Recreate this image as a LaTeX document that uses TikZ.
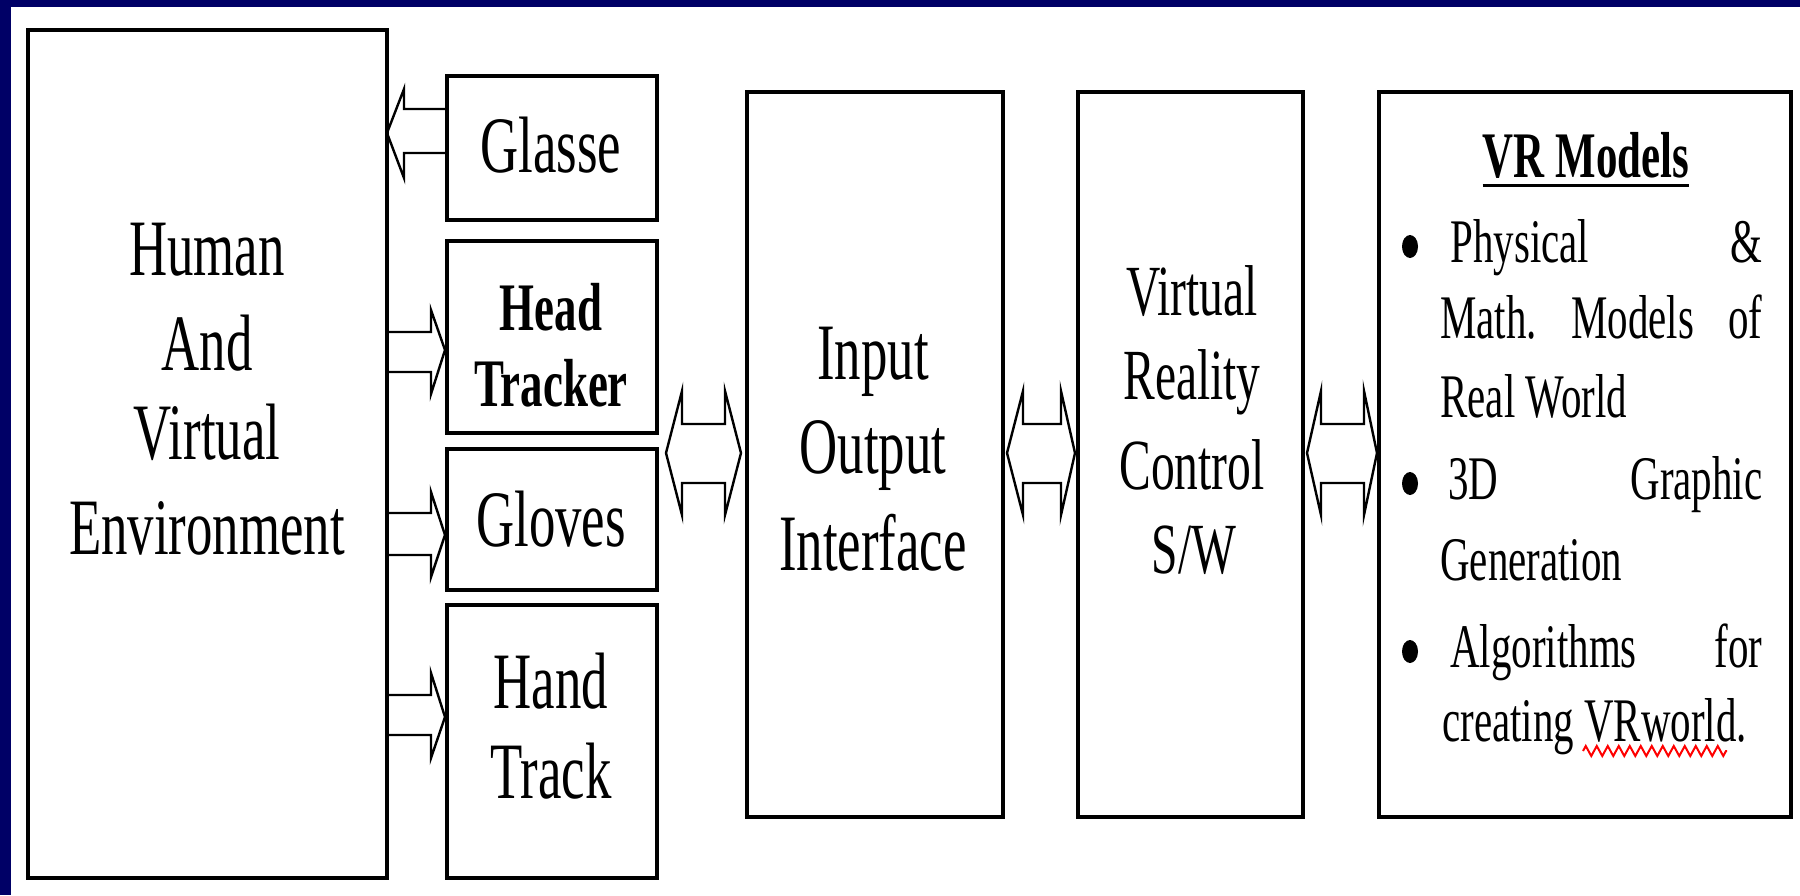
\documentclass[tikz,border=0pt]{standalone}
\usepackage{fontspec}
\newfontfamily\tnr[FakeStretch=0.66]{Liberation Serif}
\usetikzlibrary{calc,decorations.pathmorphing}
\definecolor{bordernavy}{RGB}{0,0,102}
\begin{document}
\begin{tikzpicture}[x=0.5pt,y=-0.5pt,
  box/.style={draw, line width=2pt, inner sep=0pt, minimum width=#1},
  blkarrow/.style={draw, line width=1.2pt, line join=miter},
  big/.style={font=\tnr\fontsize{40pt}{40pt}\selectfont, anchor=base, inner sep=0pt},
  mid/.style={font=\tnr\fontsize{36pt}{36pt}\selectfont, anchor=base, inner sep=0pt},
  hbold/.style={font=\tnr\bfseries\fontsize{34pt}{34pt}\selectfont, anchor=base, inner sep=0pt},
  ttl/.style={font=\tnr\bfseries\fontsize{32.5pt}{32.5pt}\selectfont, anchor=base, inner sep=0pt},
  lst/.style={font=\tnr\fontsize{31pt}{31pt}\selectfont, anchor=base west, inner sep=0pt},
  bul/.style={fill=black}]
\useasboundingbox (0,0) rectangle (1800,895);
\fill[white] (0,0) rectangle (1800,895);
\fill[bordernavy] (0,0) rectangle (1800,7);
\fill[bordernavy] (0,0) rectangle (11,895);

% boxes
\node[box=179.5pt, minimum height=424pt] (human) at (207.5,454) {};
\node[box=105pt, minimum height=72pt] (glasse) at (552,148) {};
\node[box=105pt, minimum height=96pt] (head) at (552,337) {};
\node[box=105pt, minimum height=70.5pt] (gloves) at (552,519.5) {};
\node[box=105pt, minimum height=136.5pt] (hand) at (552,741.5) {};
\node[box=128pt, minimum height=362.5pt] (io) at (875,454.5) {};
\node[box=112.5pt, minimum height=362.5pt] (vrc) at (1190.5,454.5) {};
\node[box=206pt, minimum height=362.5pt] (models) at (1585,454.5) {};

% texts
\node[big] (h1) at (207,275) {Human};
\node[big] (h2) at (207,370) {And};
\node[big] (h3) at (207,459) {Virtual};
\node[big] (h4) at (207,554) {Environment};
\node[big] (g1) at (551,172) {Glasse};
\node[hbold] (t1) at (551,330) {Head};
\node[hbold] (t2) at (551,406) {Tracker};
\node[big] (gl1) at (551,546) {Gloves};
\node[big] (ht1) at (551,708) {Hand};
\node[big] (ht2) at (551,798) {Track};
\node[big] (i1) at (873,379) {Input};
\node[big] (i2) at (873,473) {Output};
\node[big] (i3) at (873,570) {Interface};
\node[mid] (v1) at (1192,315) {Virtual};
\node[mid] (v2) at (1192,399) {Reality};
\node[mid] (v3) at (1192,489) {Control};
\node[mid] (v4) at (1194,573) {S/W};

\node[ttl] (mt) at (1586,177) {VR Models};
\draw[line width=1.5pt] ($(mt.base west)+(0,8)$) -- ($(mt.base east)+(0,8)$);

\fill[bul] (1410,246.5) ellipse[x radius=8, y radius=11.5];
\node[lst] (l1) at (1450,262) {\hbox to 156pt{Physical\hfill\&}};
\node[lst] (l2) at (1440,338) {\hbox to 161pt{Math.\hfill Models\hfill of}};
\node[lst] (l3) at (1440,417) {Real World};
\fill[bul] (1410,483.5) ellipse[x radius=8, y radius=11.5];
\node[lst] (l4) at (1448,499) {\hbox to 157pt{3D\hfill Graphic}};
\node[lst] (l5) at (1440,580) {Generation};
\fill[bul] (1410,651.5) ellipse[x radius=8, y radius=11.5];
\node[lst] (l6) at (1450,667) {\hbox to 156pt{Algorithms\hfill for}};
\node[lst] (l7) at (1442,741) {creating VRworld.};
\draw[red, line width=1pt, decorate, decoration={zigzag, segment length=5.5pt, amplitude=2.5pt}] (1583,751) -- (1727,751);

% single block arrows
\draw[blkarrow] (glasse.west |- 0,109) -- ($(human.east |- 0,109)+(15,0)$) -- ($(human.east |- 0,89)+(15,0)$)
  -- ($(human.east |- 0,133)+(-2,0)$) -- ($(human.east |- 0,178)+(15,0)$) -- ($(human.east |- 0,153)+(15,0)$) -- (glasse.west |- 0,153);
\draw[blkarrow] (human.east |- 0,332) -- ($(head.west |- 0,332)+(-14,0)$) -- ($(head.west |- 0,310)+(-14,0)$)
  -- (head.west |- 0,350) -- ($(head.west |- 0,394)+(-14,0)$) -- ($(head.west |- 0,372)+(-14,0)$) -- (human.east |- 0,372);
\draw[blkarrow] (human.east |- 0,513) -- ($(gloves.west |- 0,513)+(-14,0)$) -- ($(gloves.west |- 0,492)+(-14,0)$)
  -- (gloves.west |- 0,535) -- ($(gloves.west |- 0,577)+(-14,0)$) -- ($(gloves.west |- 0,555)+(-14,0)$) -- (human.east |- 0,555);
\draw[blkarrow] (human.east |- 0,695) -- ($(hand.west |- 0,695)+(-14,0)$) -- ($(hand.west |- 0,673)+(-14,0)$)
  -- (hand.west |- 0,717) -- ($(hand.west |- 0,758)+(-14,0)$) -- ($(hand.west |- 0,735)+(-14,0)$) -- (human.east |- 0,735);

% double block arrows
\newcommand\dblarr[6]{%
\draw[blkarrow] ($(#1 |- 0,453)+(#2,0)$) -- ($(#1 |- 0,391)+(#3,0)$) -- ($(#1 |- 0,424)+(#3,0)$)
  -- ($(#4 |- 0,424)+(#6,0)$) -- ($(#4 |- 0,391)+(#6,0)$) -- ($(#4 |- 0,453)+(#5,0)$)
  -- ($(#4 |- 0,515)+(#6,0)$) -- ($(#4 |- 0,483)+(#6,0)$) -- ($(#1 |- 0,483)+(#3,0)$)
  -- ($(#1 |- 0,515)+(#3,0)$) -- cycle;}
\dblarr{glasse.east}{7}{23}{io.west}{-4}{-20}
\dblarr{io.east}{2}{18}{vrc.west}{-1}{-15}
\dblarr{vrc.east}{2}{16}{models.west}{0}{-13}
\end{tikzpicture}
\end{document}
